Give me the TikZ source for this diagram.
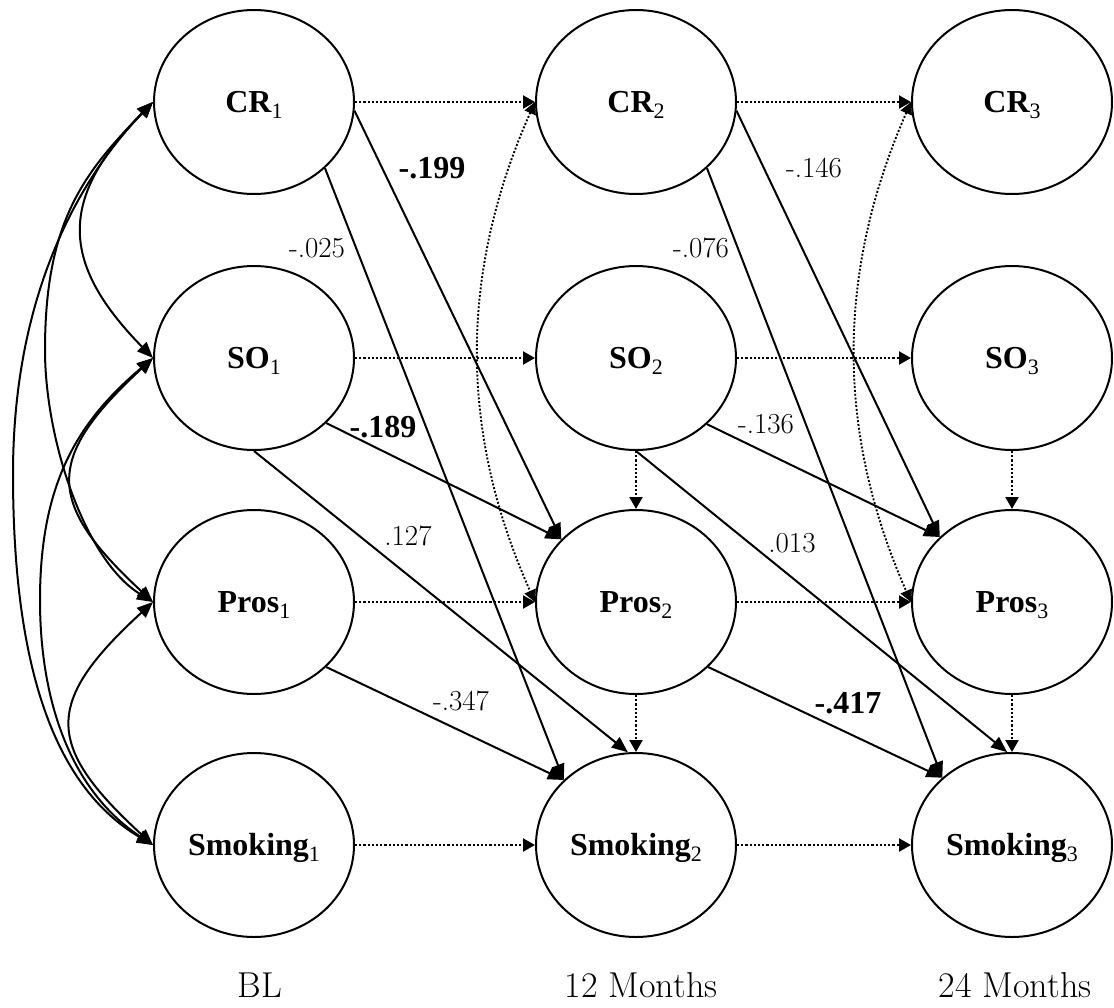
\documentclass[tikz,border=0pt]{standalone}
\usepackage{fontspec}
\newfontfamily\tnr{Liberation Serif}
\usetikzlibrary{shapes.geometric,arrows.meta}

% variable name with a lowered, lighter index
\newcommand{\vname}[2]{{\tnr\bfseries #1}\raisebox{-6pt}{\tnr\mdseries\fontsize{22}{22}\selectfont #2}}

\tikzset{
  latent/.style={ellipse, draw, line width=2pt, minimum width=200pt, minimum height=184pt,
    inner sep=0pt, font=\tnr\bfseries\fontsize{32}{36}\selectfont, text height=21pt, text depth=0pt},
  effect/.style={line width=2pt, -{Triangle[length=16pt,width=13pt]}},
  stability/.style={line width=2.2pt, dash pattern=on 2.2pt off 2pt, -{Triangle[length=12pt,width=13pt]}},
  covar/.style={line width=2pt, {Triangle[length=16pt,width=13pt]}-{Triangle[length=16pt,width=13pt]}},
  rescov/.style={line width=1.9pt, dash pattern=on 1.9pt off 1.9pt,
    {Triangle[length=12pt,width=12pt]}-{Triangle[length=12pt,width=12pt]}},
  coef/.style={anchor=base, inner sep=0pt, font=\fontsize{29}{32}\selectfont},
  coefb/.style={anchor=base, inner sep=0pt, font=\tnr\bfseries\fontsize{32}{36}\selectfont},
  wave/.style={anchor=base, inner sep=0pt, font=\fontsize{36}{40}\selectfont}
}

\begin{document}
\begin{tikzpicture}[x=1pt, y=-1pt]
\useasboundingbox (0,0) rectangle (1114,1007);

% latent variables
\node[latent] (cr1)  at (254,102) {\vname{CR}{1}};
\node[latent] (so1)  at (254,358) {\vname{SO}{1}};
\node[latent] (pr1)  at (254,602) {\vname{Pros}{1}};
\node[latent] (sm1)  at (254,845) {\vname{Smoking}{1}};

\node[latent] (cr2)  at (636,102) {\vname{CR}{2}};
\node[latent] (so2)  at (636,358) {\vname{SO}{2}};
\node[latent] (pr2)  at (636,602) {\vname{Pros}{2}};
\node[latent] (sm2)  at (636,845) {\vname{Smoking}{2}};

\node[latent] (cr3)  at (1012,102) {\vname{CR}{3}};
\node[latent] (so3)  at (1012,358) {\vname{SO}{3}};
\node[latent] (pr3)  at (1012,602) {\vname{Pros}{3}};
\node[latent] (sm3)  at (1012,845) {\vname{Smoking}{3}};

% wave labels
\node[wave] (w1) at (260,997) {BL};
\node[wave] (w2) at (641,997) {12 Months};
\node[wave] (w3) at (1015,997) {24 Months};

% stability paths
\draw[stability] (cr1.east) -- (cr2.west);
\draw[stability] (so1.east) -- (so2.west);
\draw[stability] (pr1.east) -- (pr2.west);
\draw[stability] (sm1.east) -- (sm2.west);
\draw[stability] (cr2.east) -- (cr3.west);
\draw[stability] (so2.east) -- (so3.west);
\draw[stability] (pr2.east) -- (pr3.west);
\draw[stability] (sm2.east) -- (sm3.west);
\draw[stability] (so2.south) -- (pr2.north);
\draw[stability] (pr2.south) -- (sm2.north);
\draw[stability] (so3.south) -- (pr3.north);
\draw[stability] (pr3.south) -- (sm3.north);

% cross-lagged effects, BL to 12 months
\draw[effect] (cr1.-5)  -- (pr2.140);
\draw[effect] (cr1.-43) -- (sm2.138);
\draw[effect] (so1.-42) -- (pr2.140);
\draw[effect] (so1.south) -- (sm2.95);
\draw[effect] (pr1.-42) -- (sm2.138);

% cross-lagged effects, 12 to 24 months
\draw[effect] (cr2.-5)  -- (pr3.138);
\draw[effect] (cr2.-43) -- (sm3.136);
\draw[effect] (so2.-43) -- (pr3.138);
\draw[effect] (so2.south) -- (sm3.93);
\draw[effect] (pr2.-42) -- (sm3.136);

% baseline covariances
\draw[covar] (cr1.west) .. controls (59,198) and (59,262) .. (so1.west);
\draw[covar] (cr1.west) .. controls (85,172) and (45,220) .. (45,350)
                        .. controls (45,440) and (85,560) .. (pr1.west);
\draw[covar] (cr1.west) .. controls (75,183) and (13,300) .. (13,474)
                        .. controls (13,680) and (60,790) .. (sm1.west);
\draw[covar] (so1.west) .. controls (45,458) and (45,502) .. (pr1.west);
\draw[covar] (so1.west) .. controls (80,420) and (40,480) .. (40,600)
                        .. controls (40,700) and (70,790) .. (sm1.west);
\draw[covar] (pr1.west) .. controls (44,702) and (44,745) .. (sm1.west);

% residual covariances
\draw[rescov] (cr2.west) .. controls (459,273) and (459,432) .. (pr2.west);
\draw[rescov] (cr3.west) .. controls (836,273) and (836,432) .. (pr3.west);

% coefficients
\node[coef]  (k1)  at (317,257) {-.025};
\node[coefb] (k2)  at (432,178) {-.199};
\node[coefb] (k3)  at (383,437) {-.189};
\node[coef]  (k4)  at (408,545) {.127};
\node[coef]  (k5)  at (461,710) {-.347};
\node[coef]  (k6)  at (701,257) {-.076};
\node[coef]  (k7)  at (814,177) {-.146};
\node[coef]  (k8)  at (766,433) {-.136};
\node[coef]  (k9)  at (792,552) {.013};
\node[coefb] (k10) at (848,713) {-.417};
\end{tikzpicture}
\end{document}
